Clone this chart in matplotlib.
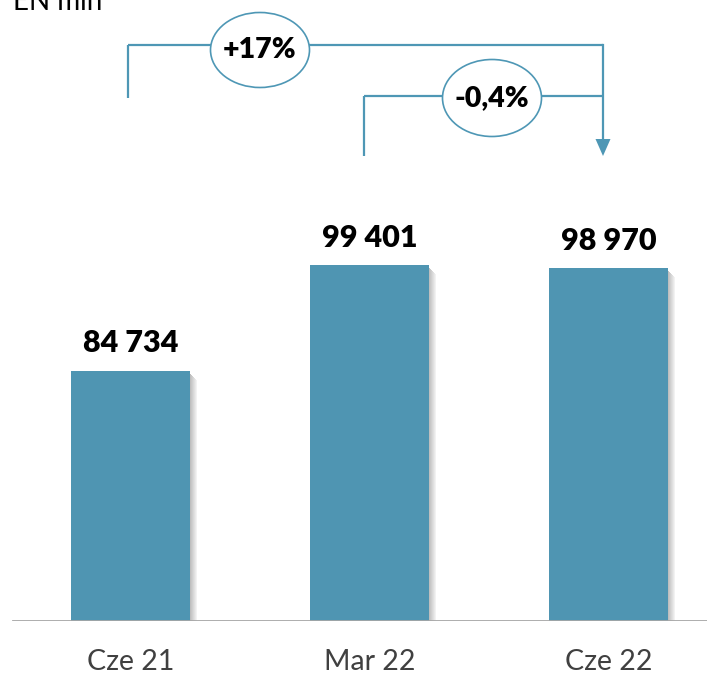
import matplotlib.pyplot as plt
from matplotlib.patches import Ellipse, Rectangle, Polygon

# data
categories = ['Cze 21', 'Mar 22', 'Cze 22']
values = [84734, 99401, 98970]
value_labels = ['84 734', '99 401', '98 970']
changes = ['+17%', '-0,4%']   # Cze 21 -> Cze 22, Mar 22 -> Cze 22
unit_label = 'EN mln'

BAR_COLOR = '#4f95b2'
LINE_COLOR = '#4e97b5'
TEXT_COLOR = '#404040'

plt.rcParams['font.family'] = ['Lato', 'DejaVu Sans']

W, H = 707, 676
fig = plt.figure(figsize=(W / 100, H / 100), dpi=100)

# axes spans full width, baseline at y=621 px from top
base_px = 621
ax = fig.add_axes([0, (H - base_px) / H, 1, base_px / H])

px_x = 239.0             # pixels per category
x0_px = 130.5            # center of first bar in pixels
ymin = 50000
px_per_unit = 0.0072
ax.set_xlim(-x0_px / px_x, (W - x0_px) / px_x)
ax.set_ylim(ymin, ymin + base_px / px_per_unit)

def dx(p):
    return p / px_x

def dy(p):
    return p / px_per_unit

def y_at(py):
    # data y for a pixel row measured from the top of the figure
    return ymin + (base_px - py) / px_per_unit

def x_at(px):
    return (px - x0_px) / px_x

xs = list(range(len(categories)))
bw = 0.5

# soft shadow on the right side of each bar
for x, v in zip(xs, values):
    for k in range(7):
        ax.add_patch(Rectangle((x + bw / 2 + dx(k), ymin), dx(1.2), v - ymin - dy(3 + k),
                               facecolor='#707070', alpha=0.45 - 0.06 * k,
                               linewidth=0, zorder=1))

ax.bar(xs, [v - ymin for v in values], bottom=ymin, width=bw,
       color=BAR_COLOR, zorder=2)

for x, v, lab in zip(xs, values, value_labels):
    ax.annotate(lab, (x, v), xytext=(0, 13.5), textcoords='offset points',
                ha='center', va='baseline', fontsize=22, fontweight='heavy',
                color='black')

# baseline
ax.axhline(ymin, xmin=13 / W, xmax=1, color='#a6a6a6', linewidth=2, zorder=3)

for s in ax.spines.values():
    s.set_visible(False)
ax.set_yticks([])
ax.set_xticks(xs)
ax.set_xticklabels(categories, fontsize=20.5, color=TEXT_COLOR)
ax.tick_params(axis='x', length=0, pad=20)

# change brackets
def bracket(x_left, y_line, y_left_end, x_right, label, x_label, y_label, w_px, h_px):
    kw = dict(color=LINE_COLOR, linewidth=1.6, clip_on=False, zorder=4,
              solid_capstyle='butt')
    ax.plot([x_left, x_left], [y_left_end, y_line], **kw)
    ax.plot([x_left, x_right], [y_line, y_line], **kw)
    ax.add_patch(Ellipse((x_label, y_label), dx(w_px), dy(h_px), facecolor='white',
                         edgecolor=LINE_COLOR, linewidth=1.2, zorder=5,
                         clip_on=False))
    ax.text(x_label, y_label, label, ha='center', va='center', fontsize=20.5,
            fontweight='heavy', color='black', zorder=6)

x_right = x_at(603)
bracket(x_at(128), y_at(45), y_at(98), x_right, changes[0], x_at(260), y_at(50), 99, 75)
bracket(x_at(364), y_at(96), y_at(156), x_right, changes[1], x_at(492), y_at(98), 99, 77)

# arrow down to last bar
ax.plot([x_right, x_right], [y_at(45), y_at(140)], color=LINE_COLOR,
        linewidth=1.6, clip_on=False, zorder=4)
ax.add_patch(Polygon([(x_right - dx(7.5), y_at(139)), (x_right + dx(7.5), y_at(139)),
                      (x_right, y_at(156))], closed=True, facecolor=LINE_COLOR,
                     edgecolor='none', clip_on=False, zorder=4))

fig.text(13 / W, 1 - 10 / H, unit_label, ha='left', va='baseline',
         fontsize=20, color='black')

fig.savefig('out.png', dpi=100)
